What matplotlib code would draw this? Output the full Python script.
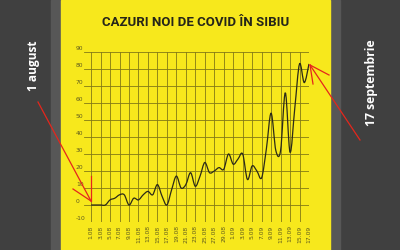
import matplotlib
matplotlib.use("Agg")
import matplotlib.pyplot as plt
from matplotlib.path import Path
from matplotlib.patches import PathPatch, Rectangle
from matplotlib.lines import Line2D


# DATA
days_aug = [f"{d}.08" for d in range(1, 31)]
days_sep = [f"{d}.09" for d in range(1, 18)]
dates = days_aug + days_sep

new_cases = [0, 0, 0, 0, 3, 4, 6, 6, 0, 4,
             3, 6, 8, 6, 12, 5, 0, 9, 17, 10,
             12, 19, 11, 17, 25, 19, 20, 22, 21, 30,
             24, 27, 30, 15, 23, 20, 16, 33, 54, 32,
             32, 66, 31, 57, 83, 72, 83]

y_ticks = list(range(-10, 91, 10))

title = "CAZURI NOI DE COVID ÎN SIBIU"
left_note = "1 august"
right_note = "17 septembrie"


# COLOURS
dark_bg = "#404040"
strip = "#575757"
yellow = "#f7e81c"
grid_col = "#837a16"
text_col = "#5e5a1e"
red = "#e5261c"


W, H = 400, 250
fig = plt.figure(figsize=(4, 2.5), dpi=100)
fig.patch.set_facecolor(dark_bg)


def px_rect(x0, x1, color):
    fig.add_artist(Rectangle((x0 / W, 0), (x1 - x0) / W, 1,
                             transform=fig.transFigure,
                             color=color, zorder=0))


px_rect(51, 61, strip)
px_rect(330, 340, strip)
px_rect(61, 330, yellow)


# AXES
ax = fig.add_axes([84 / W, 1 - 222 / H, 225 / W, 170 / H])
ax.set_facecolor("none")
ax.set_xlim(-1.5, len(dates) - 1)
ax.set_ylim(-10, 90)

for s in ax.spines.values():
    s.set_visible(False)

for v in y_ticks:
    ax.axhline(v, color=grid_col, lw=0.6, zorder=1)
    ax.text(-0.036, v + 0.8, str(v), transform=ax.get_yaxis_transform(),
            ha="left", va="bottom", fontsize=4.3, color=text_col)

xt = list(range(0, len(dates), 2))
for i in xt:
    ax.plot([i, i], [-10, 90], color=grid_col, lw=0.6, zorder=1)

ax.set_yticks([])
ax.set_xticks(xt)
ax.set_xticklabels([dates[i] for i in xt], rotation=90,
                   fontsize=4.3, color=text_col)
ax.tick_params(axis="x", length=0, pad=2.5)


# SMOOTHED LINE (catmull-rom -> bezier)
xs = list(range(len(new_cases)))
pts = list(zip(xs, new_cases))
verts = [pts[0]]
codes = [Path.MOVETO]
n = len(pts)
for i in range(n - 1):
    p0 = pts[max(i - 1, 0)]
    p1 = pts[i]
    p2 = pts[i + 1]
    p3 = pts[min(i + 2, n - 1)]
    c1 = (p1[0] + (p2[0] - p0[0]) / 6, p1[1] + (p2[1] - p0[1]) / 6)
    c2 = (p2[0] - (p3[0] - p1[0]) / 6, p2[1] - (p3[1] - p1[1]) / 6)
    verts += [c1, c2, p2]
    codes += [Path.CURVE4] * 3

ax.add_patch(PathPatch(Path(verts, codes), fill=False,
                       edgecolor="#2b2a18", lw=0.9, zorder=3))


# TITLE
fig.text(196 / W, 1 - 22 / H, title, ha="center", va="center",
         fontsize=9.5, fontweight="bold", color="#262619",
         family=["Roboto", "DejaVu Sans"])


# SIDE NOTES + RED ARROWS
fig.text(33 / W, 1 - 66 / H, left_note, rotation=90, ha="center",
         va="center", fontsize=8.6, fontweight="bold", color="white",
         family=["Open Sans", "DejaVu Sans"])
fig.text(371 / W, 1 - 83 / H, right_note, rotation=90, ha="center",
         va="center", fontsize=8.8, fontweight="bold", color="white",
         family=["Open Sans", "DejaVu Sans"])


def px_line(p, q):
    fig.add_artist(Line2D([p[0] / W, q[0] / W], [1 - p[1] / H, 1 - q[1] / H],
                          transform=fig.transFigure, color=red, lw=0.9,
                          zorder=5))


tip_l = (91, 201)
px_line((38, 102), tip_l)
px_line(tip_l, (91, 176))
px_line(tip_l, (73, 189))

tip_r = (310, 65)
px_line((360, 140), tip_r)
px_line(tip_r, (313, 84))
px_line(tip_r, (329, 75))


plt.savefig("out.png", dpi=100, facecolor=fig.get_facecolor())
